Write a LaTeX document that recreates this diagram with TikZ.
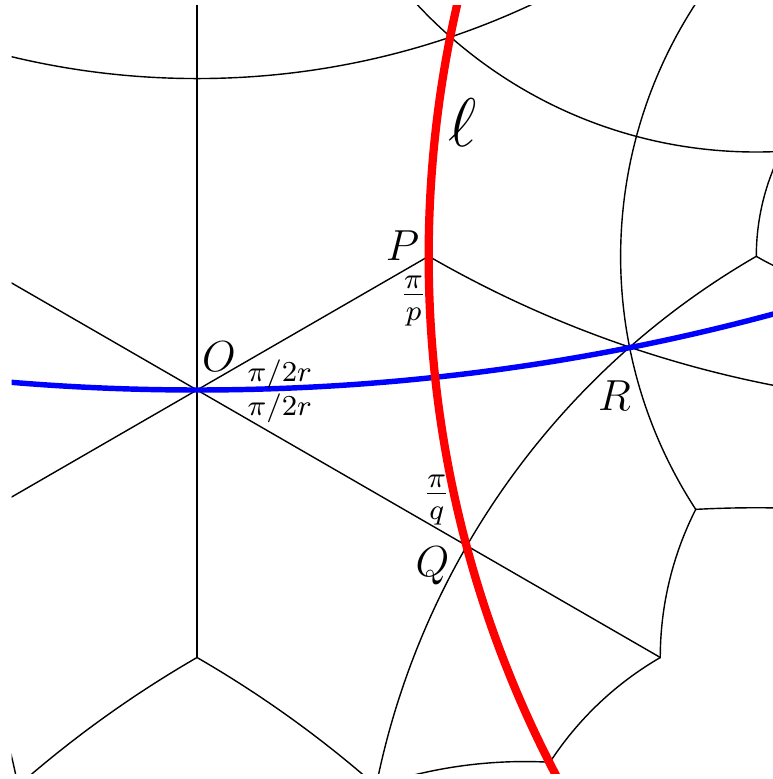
\documentclass[tikz,border=0pt]{standalone}
\tikzset{
  tileline/.style={line width=0.4pt},
  ell/.style={red,line width=2.35pt},
  hyp/.style={blue,line width=1.55pt},
  lab/.style={inner sep=0pt,anchor=base,font=\large,scale=1.03,transform shape},
}
\begin{document}
\begin{tikzpicture}[x=7.68cm,y=7.68cm,line cap=round,line join=round]
  \useasboundingbox (-0.25651,-0.50651) rectangle (0.748698,0.507813);
  \coordinate (O) at (0,0);
  \coordinate (P) at (0.301654,0.174160);
  \coordinate (Q) at (0.351199,-0.202765);
  \coordinate (R) at (0.563245,0.055709);
  \coordinate (V1) at (0,-0.348320);
  \coordinate (V2) at (0.649384,-0.155445);
  \coordinate (V3) at (0.603290,-0.348310);
  \coordinate (V4) at (0.728263,0.174031);
  \coordinate (W) at (0.459311,-0.484660);
  \coordinate (Ttop) at (0,0.6);
  \coordinate (P150) at (150:0.34832);
  \coordinate (Q210) at (210:0.40553);
  \begin{scope}
    \clip (-0.2415,-0.5) rectangle (0.75,0.5);
    \draw[tileline] (Ttop) -- (V1);
    \draw[tileline] (O) -- (P150);
    \draw[tileline] (O) -- (Q210);
    \draw[tileline] (O) -- (P);
    \draw[tileline] (O) -- (Q) -- (V3);
    \draw[tileline] (P) arc[start angle=240,end angle=262,radius=1.456576];
    \draw[tileline] (V4) arc[start angle=120,end angle=172,radius=1.030190];
    \draw[tileline] (V2) arc[start angle=213.08,end angle=140,radius=0.603335];
    \draw[tileline] (0,1.435720) circle[radius=1.030190];
    \draw[tileline] (0.728060,0.913204) circle[radius=0.603335];
    \draw[tileline] (-1.243370,-0.717860) circle[radius=1.030190];
    \draw[tileline] (V1) arc[start angle=120,end angle=132,radius=1.456576];
    \draw[tileline] (V1) arc[start angle=60,end angle=48,radius=1.456576];
    \draw[tileline] (V4) arc[start angle=180,end angle=155,radius=0.301680];
    \draw[tileline] (V4) arc[start angle=240,end angle=258,radius=0.426640];
    \draw[tileline] (V2) arc[start angle=153.1,end angle=180,radius=0.426640];
    \draw[tileline] (V2) arc[start angle=93.07,end angle=88,radius=1.458202];
    \draw[tileline] (V3) arc[start angle=120.06,end angle=146.9,radius=0.426640];
    \draw[tileline] (W) arc[start angle=86.91,end angle=108.7,radius=0.603335];
    \draw[hyp] (0,2.875188) circle[radius=2.875188];
    \draw[ell] (1.758230,0.173901) circle[radius=1.456576];
  \end{scope}
  \node[lab] (labO) at (0.02865,0.02474) {$O$};
  \node[lab] (labP) at (0.26758,0.16927) {$P$};
  \node[lab] (labQ) at (0.30664,-0.24284) {$Q$};
  \node[lab] (labR) at (0.54362,-0.02604) {$R$};
  \node[lab,font=\LARGE,scale=1.1] (labl) at (0.34570,0.31706) {$\ell$};
  \node[lab,anchor=base west] (angup) at (0.06510,0.01081) {$\scriptstyle\pi/2r$};
  \node[lab,anchor=base west] (angdn) at (0.06510,-0.03346) {$\scriptstyle\pi/2r$};
  \node[lab] (angp) at (0.28190,0.11042) {$\frac{\pi}{p}$};
  \node[lab] (angq) at (0.31211,-0.14870) {$\frac{\pi}{q}$};
\end{tikzpicture}
\end{document}
